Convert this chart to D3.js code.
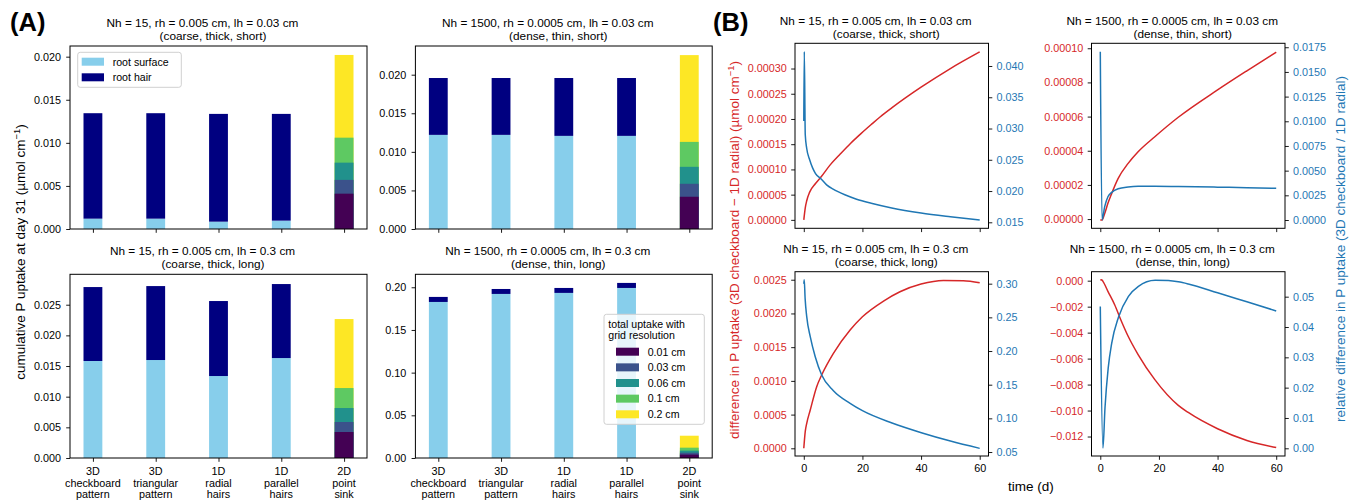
<!DOCTYPE html>
<html><head><meta charset="utf-8">
<script src="https://cdn.jsdelivr.net/npm/d3@7"></script>
<style>body{margin:0;background:#fff} svg{display:block} text{font-family:"Liberation Sans",Arial,Helvetica,sans-serif}</style>
</head><body><svg id="c" width="1360" height="503"></svg>
<script>
// ---------- data ----------
const categories = [["3D","checkboard","pattern"],["3D","triangular","pattern"],["1D","radial","hairs"],["1D","parallel","hairs"],["2D","point","sink"]];
const partNames = ["root surface","root hair"];
const partColors = ["#87ceeb","#000080"];
const resolutions = ["0.01 cm","0.03 cm","0.06 cm","0.1 cm","0.2 cm"];
const resColors = ["#440154","#3b528b","#21918c","#5ec962","#fde725"];

// panel A: (surface, hair) for the first four categories, total uptake for the 2D point sink per resolution
const surfaceCTS = [0.0012, 0.0012, 0.00085, 0.00097];
const hairCTS    = [0.01224, 0.01224, 0.01251, 0.01239];
const sinkCTS    = [0.0041, 0.0057, 0.0077, 0.0106, 0.0202];
const surfaceDTS = [0.0122, 0.0122, 0.01207, 0.01207];
const hairDTS    = [0.00737, 0.00737, 0.0075, 0.0075];
const sinkDTS    = [0.00418, 0.00586, 0.00806, 0.01129, 0.02254];
const surfaceCTL = [0.01582, 0.01598, 0.01337, 0.0163];
const hairCTL    = [0.01206, 0.01206, 0.01223, 0.01207];
const sinkCTL    = [0.00424, 0.00587, 0.00815, 0.01141, 0.02266];
const surfaceDTL = [0.1828, 0.1922, 0.1934, 0.1992];
const hairDTL    = [0.0059, 0.0058, 0.0058, 0.0059];
const sinkDTL    = [0.0040, 0.0062, 0.0086, 0.0121, 0.0261];

// panel B: time series (red = absolute difference, blue = relative difference)
const tRedCTS  = [0, 0.5, 1, 2, 4, 6, 9, 12.5, 16, 19.5, 23, 26, 30, 40, 50, 60];
const redCTS   = [0, 0.000024, 0.000038, 0.000055, 0.000072, 0.000086, 0.000109, 0.000131, 0.000152, 0.000171, 0.000189, 0.000204, 0.000222, 0.000263, 0.0003, 0.000333];
const tBlueCTS = [0, 0.17, 0.5, 1, 2, 3, 4, 6, 8, 10, 14, 18, 23, 30, 40, 50, 60];
const blueCTS  = [0.0312, 0.0423, 0.029, 0.0268, 0.025, 0.0237, 0.0228, 0.0219, 0.0209, 0.0203, 0.0194, 0.0187, 0.01805, 0.0173, 0.0165, 0.0159, 0.01537];

const tRedDTS  = [0, 0.6, 1.5, 2.6, 3.8, 6.1, 9.5, 12.9, 18.6, 26.6, 40, 50, 60];
const redDTS   = [-0.0000006, -0.0000006, 0.0000033, 0.0000092, 0.0000146, 0.0000238, 0.0000326, 0.0000394, 0.0000482, 0.0000596, 0.0000756, 0.0000868, 0.0000977];
const tBlueDTS = [0, 0.6, 1.5, 2.6, 3.8, 6.1, 9.5, 12.9, 18.6, 26.6, 40, 50, 60];
const blueDTS  = [0.01705, 0.0, 0.00135, 0.00236, 0.00277, 0.00317, 0.00334, 0.00341, 0.00342, 0.00339, 0.00333, 0.00327, 0.00321];

const tRedCTL  = [0, 0.5, 1, 2.2, 4.4, 6.1, 10.1, 15.8, 20, 27.2, 32.8, 40, 47.6, 54.4, 60];
const redCTL   = [0, 0.00025, 0.00037, 0.000568, 0.000914, 0.001087, 0.001408, 0.001754, 0.001951, 0.002184, 0.002322, 0.002436, 0.00249, 0.002485, 0.002455];
const tBlueCTL = [0, 0.15, 0.45, 1, 2.2, 3.9, 6.1, 10.1, 15.8, 20, 30.1, 40.1, 50, 60];
const blueCTL  = [0.300, 0.306, 0.2782, 0.251, 0.2213, 0.1916, 0.1644, 0.1411, 0.1223, 0.1114, 0.0931, 0.0787, 0.0663, 0.0554];

const tRedDTL  = [0, 0.4, 0.9, 2.6, 4.9, 7.2, 9.5, 12.9, 18.6, 26.6, 30, 40, 50, 60];
const redDTL   = [0.00003, 0.00008, -0.00005, -0.00082, -0.00185, -0.00312, -0.00428, -0.00569, -0.00762, -0.0096, -0.01015, -0.0114, -0.0123, -0.01285];
const tBlueDTL = [0, 0.9, 1.6, 2.7, 3.9, 6.2, 9.6, 13, 18.7, 23.2, 26.6, 30, 40, 50, 60];
const blueDTL  = [0.0468, 0.0001, 0.0133, 0.0265, 0.0347, 0.0432, 0.0501, 0.0534, 0.0554, 0.0553, 0.0549, 0.0542, 0.0513, 0.0483, 0.0453];

const timeTicks = [0, 20, 40, 60];

// ---------- drawing ----------
const svg = d3.select("#c");
svg.append("rect").attr("width",1360).attr("height",503).attr("fill","#fff");
const RED = "#d62728", BLUE = "#1f77b4";
const TICK = 10.8, TITLE = 11.8, LABEL = 13.5;

function title(g, cx, yb, l1, l2) {
  g.append("text").attr("x", cx - 16).attr("y", yb).attr("text-anchor","middle").attr("font-size",TITLE).text(l1);
  g.append("text").attr("x", cx - 5.5).attr("y", yb + 13).attr("text-anchor","middle").attr("font-size",TITLE).text(l2);
}

function styleAxis(a, color) {
  a.attr("font-size", TICK).attr("font-family", null);
  a.select(".domain").remove();
  a.selectAll(".tick line").attr("stroke","#000").attr("stroke-width",0.9);
  a.selectAll(".tick text").attr("fill", color || "#000");
}

function barPanel(p) {
  const g = svg.append("g");
  const x = d3.scaleLinear().domain([-0.365, 4.365]).range([p.x0, p.x1]);
  const y = d3.scaleLinear().domain([0, p.ymax]).range([p.y1, p.y0]);
  const bw = x(0.15) - x(-0.15);
  g.selectAll(".s").data(p.surface).join("rect")
    .attr("x",(d,i)=>x(i)-bw/2).attr("width",bw)
    .attr("y",d=>y(d)).attr("height",d=>y(0)-y(d)).attr("fill",partColors[0]);
  g.selectAll(".h").data(p.hair).join("rect")
    .attr("x",(d,i)=>x(i)-bw/2).attr("width",bw)
    .attr("y",(d,i)=>y(p.surface[i]+d)).attr("height",(d,i)=>y(p.surface[i])-y(p.surface[i]+d)).attr("fill",partColors[1]);
  const sink = p.sink.map((v,k)=>({v,k})).sort((a,b)=>b.v-a.v);
  g.selectAll(".k").data(sink).join("rect")
    .attr("x",x(4)-bw/2).attr("width",bw)
    .attr("y",d=>y(d.v)).attr("height",d=>y(0)-y(d.v)).attr("fill",d=>resColors[d.k]);
  g.append("g").attr("transform",`translate(${p.x0},0)`)
    .call(d3.axisLeft(y).tickValues(p.yticks).tickFormat(d3.format(p.fmt)).tickSize(3.8).tickPadding(5.3))
    .call(a=>styleAxis(a));
  g.append("g").attr("transform",`translate(0,${p.y1})`)
    .call(d3.axisBottom(x).tickValues([0,1,2,3,4]).tickFormat("").tickSize(3.8))
    .call(a=>styleAxis(a));
  if (p.xlabels) {
    categories.forEach((c,i)=>{
      const t = g.append("text").attr("x",x(i)).attr("y",p.y1+17).attr("text-anchor","middle").attr("font-size",TICK);
      c.forEach((s,j)=>t.append("tspan").attr("x",x(i)).attr("dy", j?11.7:0).text(s));
    });
  }
  g.append("rect").attr("x",p.x0).attr("y",p.y0).attr("width",p.x1-p.x0).attr("height",p.y1-p.y0)
    .attr("fill","none").attr("stroke","#000").attr("stroke-width",1);
  title(g,(p.x0+p.x1)/2,p.y0-19,p.t1,p.t2);
  return g;
}

const AX = [[70,367],[415.4,712.2]], AY = [[46,229],[274.3,458]];
barPanel({x0:AX[0][0],x1:AX[0][1],y0:AY[0][0],y1:AY[0][1],ymax:0.02124,yticks:[0,0.005,0.01,0.015,0.02],fmt:".3f",
  surface:surfaceCTS,hair:hairCTS,sink:sinkCTS,t1:"Nh = 15, rh = 0.005 cm, lh = 0.03 cm",t2:"(coarse, thick, short)"});
barPanel({x0:AX[1][0],x1:AX[1][1],y0:AY[0][0],y1:AY[0][1],ymax:0.02372,yticks:[0,0.005,0.01,0.015,0.02],fmt:".3f",
  surface:surfaceDTS,hair:hairDTS,sink:sinkDTS,t1:"Nh = 1500, rh = 0.0005 cm, lh = 0.03 cm",t2:"(dense, thin, short)"});
barPanel({x0:AX[0][0],x1:AX[0][1],y0:AY[1][0],y1:AY[1][1],ymax:0.02996,yticks:[0,0.005,0.01,0.015,0.02,0.025],fmt:".3f",xlabels:true,
  surface:surfaceCTL,hair:hairCTL,sink:sinkCTL,t1:"Nh = 15, rh = 0.005 cm, lh = 0.3 cm",t2:"(coarse, thick, long)"});
barPanel({x0:AX[1][0],x1:AX[1][1],y0:AY[1][0],y1:AY[1][1],ymax:0.2152,yticks:[0,0.05,0.1,0.15,0.2],fmt:".2f",xlabels:true,
  surface:surfaceDTL,hair:hairDTL,sink:sinkDTL,t1:"Nh = 1500, rh = 0.0005 cm, lh = 0.3 cm",t2:"(dense, thin, long)"});

// legend 1
{
  const L = svg.append("g");
  L.append("rect").attr("x",77.7).attr("y",52.3).attr("width",103.6).attr("height",35).attr("rx",2.5)
    .attr("fill","#fff").attr("fill-opacity",0.8).attr("stroke","#d0d0d0");
  partNames.forEach((n,i)=>{
    const cy = 61.7 + i*15.6;
    L.append("rect").attr("x",81.7).attr("y",cy-4).attr("width",22.3).attr("height",8).attr("fill",partColors[i]);
    L.append("text").attr("x",112.7).attr("y",cy+3.8).attr("font-size",10.6).text(n);
  });
}
// legend 2
{
  const L = svg.append("g");
  L.append("rect").attr("x",604).attr("y",314.3).attr("width",100.3).attr("height",110).attr("rx",2.5)
    .attr("fill","#fff").attr("fill-opacity",0.8).attr("stroke","#d0d0d0");
  L.append("text").attr("x",608.3).attr("y",328).attr("font-size",10.6).text("total uptake with");
  L.append("text").attr("x",608.3).attr("y",338.7).attr("font-size",10.6).text("grid resolution");
  resolutions.forEach((n,i)=>{
    const cy = 351.7 + i*15.65;
    L.append("rect").attr("x",616).attr("y",cy-4).attr("width",23).attr("height",8).attr("fill",resColors[i]);
    L.append("text").attr("x",647.7).attr("y",cy+3.8).attr("font-size",10.6).text(n);
  });
}

function linePanel(p) {
  const g = svg.append("g");
  const x = d3.scaleLinear().domain([-3, 63]).range([p.x0, p.x0 + 193.5]);
  const x1 = p.x0 + 193.5;
  const yl = d3.scaleLinear().domain(p.redDom).range([p.y1, p.y0]);
  const yr = d3.scaleLinear().domain(p.blueDom).range([p.y1, p.y0]);
  const clipId = "clip" + Math.round(p.x0) + "_" + Math.round(p.y0);
  g.append("clipPath").attr("id",clipId).append("rect").attr("x",p.x0).attr("y",p.y0).attr("width",193.5).attr("height",p.y1-p.y0);
  const cg = g.append("g").attr("clip-path",`url(#${clipId})`);
  cg.append("path").datum(p.red).attr("fill","none").attr("stroke",RED).attr("stroke-width",1.5)
    .attr("d", d3.line().x((d,i)=>x(p.tRed[i])).y(d=>yl(d)).curve(d3.curveMonotoneX));
  cg.append("path").datum(p.blue).attr("fill","none").attr("stroke",BLUE).attr("stroke-width",1.5)
    .attr("d", d3.line().x((d,i)=>x(p.tBlue[i])).y(d=>yr(d)).curve(d3.curveMonotoneX));
  g.append("g").attr("transform",`translate(${p.x0},0)`)
    .call(d3.axisLeft(yl).tickValues(p.redTicks).tickFormat(d3.format(p.redFmt)).tickSize(3.8).tickPadding(4.5))
    .call(a=>styleAxis(a, RED));
  g.append("g").attr("transform",`translate(${x1},0)`)
    .call(d3.axisRight(yr).tickValues(p.blueTicks).tickFormat(d3.format(p.blueFmt)).tickSize(3.8).tickPadding(4.2))
    .call(a=>styleAxis(a, BLUE));
  g.append("g").attr("transform",`translate(0,${p.y1})`)
    .call(d3.axisBottom(x).tickValues(timeTicks).tickFormat(p.xlabels ? d3.format("d") : "").tickSize(3.8).tickPadding(4.5))
    .call(a=>styleAxis(a));
  g.append("rect").attr("x",p.x0).attr("y",p.y0).attr("width",193.5).attr("height",p.y1-p.y0)
    .attr("fill","none").attr("stroke","#000").attr("stroke-width",1);
  title(g,(p.x0+x1)/2,p.y0-18.5,p.t1,p.t2);
}

const BX = [795, 1091.5], BY = [[43.3,228.3],[271.7,456]];
linePanel({x0:BX[0],y0:BY[0][0],y1:BY[0][1],redDom:[-0.0000167,0.00035],blueDom:[0.01404,0.04363],
  redTicks:[0,0.00005,0.0001,0.00015,0.0002,0.00025,0.0003],redFmt:".5f",
  blueTicks:[0.015,0.02,0.025,0.03,0.035,0.04],blueFmt:".3f",
  tRed:tRedCTS,red:redCTS,tBlue:tBlueCTS,blue:blueCTS,
  t1:"Nh = 15, rh = 0.005 cm, lh = 0.03 cm",t2:"(coarse, thick, short)"});
linePanel({x0:BX[1],y0:BY[0][0],y1:BY[0][1],redDom:[-0.0000054,0.0001029],blueDom:[-0.00084,0.0179],
  redTicks:[0,0.00002,0.00004,0.00006,0.00008,0.0001],redFmt:".5f",
  blueTicks:[0,0.0025,0.005,0.0075,0.01,0.0125,0.015,0.0175],blueFmt:".4f",
  tRed:tRedDTS,red:redDTS,tBlue:tBlueDTS,blue:blueDTS,
  t1:"Nh = 1500, rh = 0.0005 cm, lh = 0.03 cm",t2:"(dense, thin, short)"});
linePanel({x0:BX[0],y0:BY[1][0],y1:BY[1][1],redDom:[-0.000114,0.002619],blueDom:[0.0441,0.3178],xlabels:true,
  redTicks:[0,0.0005,0.001,0.0015,0.002,0.0025],redFmt:".4f",
  blueTicks:[0.05,0.1,0.15,0.2,0.25,0.3],blueFmt:".2f",
  tRed:tRedCTL,red:redCTL,tBlue:tBlueCTL,blue:blueCTL,
  t1:"Nh = 15, rh = 0.005 cm, lh = 0.3 cm",t2:"(coarse, thick, long)"});
linePanel({x0:BX[1],y0:BY[1][0],y1:BY[1][1],redDom:[-0.0135,0.000692],blueDom:[-0.00254,0.05824],xlabels:true,
  redTicks:[0,-0.002,-0.004,-0.006,-0.008,-0.01,-0.012],redFmt:".3f",
  blueTicks:[0,0.01,0.02,0.03,0.04,0.05],blueFmt:".2f",
  tRed:tRedDTL,red:redDTL,tBlue:tBlueDTL,blue:blueDTL,
  t1:"Nh = 1500, rh = 0.0005 cm, lh = 0.3 cm",t2:"(dense, thin, long)"});

// panel letters
svg.append("text").attr("x",10).attr("y",30.7).attr("font-size",25.5).attr("font-weight","bold").text("(A)");
svg.append("text").attr("x",713).attr("y",30.7).attr("font-size",25.5).attr("font-weight","bold").text("(B)");

// axis labels
function vlabel(cx, cy, parts, color) {
  const t = svg.append("text").attr("transform",`translate(${cx},${cy}) rotate(-90)`).attr("text-anchor","middle")
    .attr("dy","0.35em").attr("font-size",LABEL).attr("fill",color);
  parts.forEach(pt=>{
    const s = t.append("tspan").text(pt.s);
    if (pt.sup) s.attr("font-size",LABEL*0.7).attr("baseline-shift","super");
  });
}
vlabel(20, 252, [{s:"cumulative P uptake at day 31 (µmol cm"},{s:"−1",sup:true},{s:")"}], "#000");
vlabel(734, 250, [{s:"difference in P uptake (3D checkboard − 1D radial) (µmol cm"},{s:"−1",sup:true},{s:")"}], RED);
vlabel(1340, 249, [{s:"relative difference in P uptake (3D checkboard / 1D radial)"}], BLUE);
svg.append("text").attr("x",1031).attr("y",491).attr("text-anchor","middle").attr("font-size",LABEL).text("time (d)");
</script></body></html>
